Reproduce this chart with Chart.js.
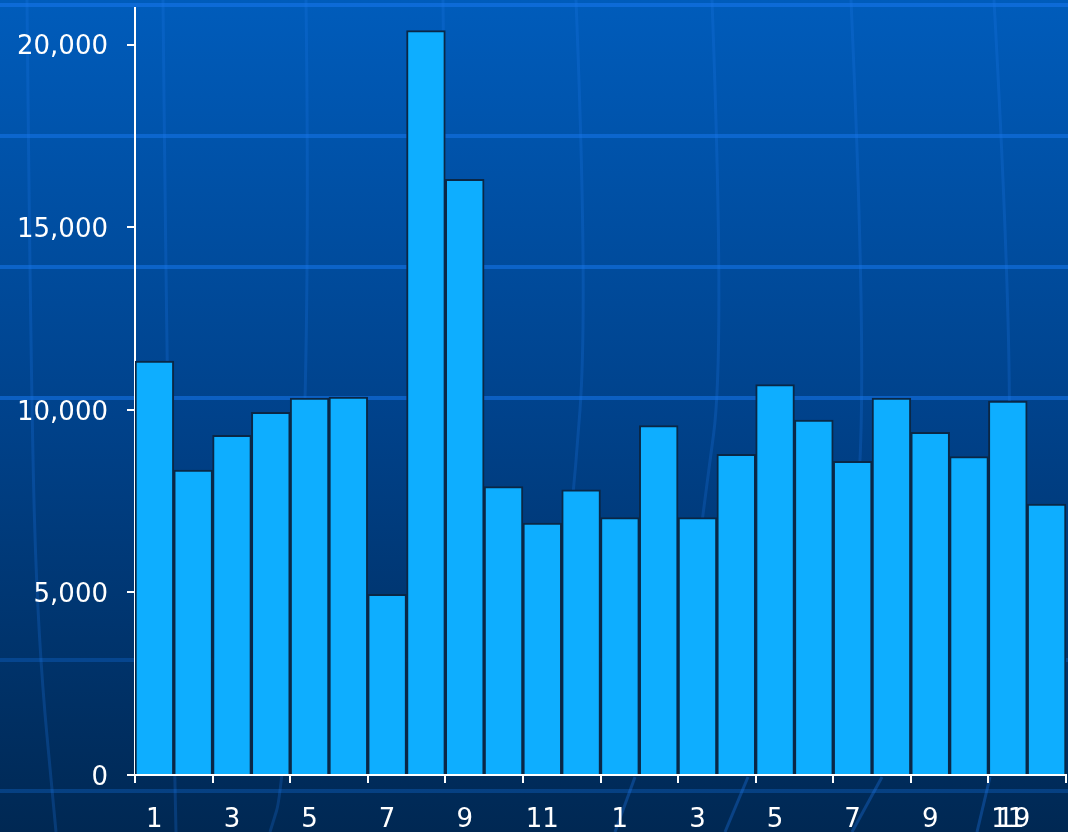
<!DOCTYPE html>
<html>
<head>
<meta charset="utf-8">
<script src="https://cdn.jsdelivr.net/npm/chart.js@4.4.1/dist/chart.umd.min.js"></script>
<style>
  html, body { margin: 0; padding: 0; background: #003a78; }
  #wrap { width: 1068px; height: 832px; position: relative; }
</style>
</head>
<body>
<div id="wrap"><canvas id="chart" width="1068" height="832"></canvas></div>
<script>
// Month numbers over two years
const categories = ['1','2','3','4','5','6','7','8','9','10','11','12',
                    '1','2','3','4','5','6','7','8','9','10','11','12'];
// Monthly totals
const values = [11330, 8350, 9300, 9930, 10320, 10350, 4950, 20380, 16310, 7900, 6900, 7810,
                7050, 9570, 7050, 8780, 10690, 9720, 8590, 10320, 9380, 8720, 10240, 7420];
// Value axis ticks
const yTicks = [0, 5000, 10000, 15000, 20000];
const yMax = 21000;
// Second label printed over the last month label
const extraLabel = '19';

const FONT = { family: '"DejaVu Sans", Verdana, sans-serif', size: 26 };

// Globe-style backdrop: gradient, latitude bands and curved meridians
const backdrop = {
  id: 'backdrop',
  beforeDraw(chart) {
    const { ctx, width, height } = chart;
    ctx.save();
    const g = ctx.createLinearGradient(0, 0, 0, height);
    g.addColorStop(0, '#005cbb');
    g.addColorStop(0.5, '#00428b');
    g.addColorStop(1, '#002853');
    ctx.fillStyle = g;
    ctx.fillRect(0, 0, width, height);

    const bands = [[5, 0.65], [136, 0.6], [267, 0.6], [398, 0.6], [660, 0.3], [791, 0.3]];
    ctx.lineWidth = 4;
    bands.forEach(([y, a]) => {
      ctx.strokeStyle = `rgba(20,115,230,${a})`;
      ctx.beginPath();
      ctx.moveTo(0, y);
      ctx.lineTo(width, y);
      ctx.stroke();
    });

    const meridians = [
      [[27,0],[31,400],[38,640],[56,832]],
      [[163,0],[167,400],[176,832]],
      [[306,0],[311,380],[283,790],[270,832]],
      [[443,0],[447,380],[430,740]],
      [[576,0],[588,300],[572,520],[545,740]],
      [[712,0],[725,350],[702,520],[675,740]],
      [[851,0],[868,380],[848,600],[830,740]],
      [[994,0],[1015,380],[1000,620]]
    ];
    const slants = [
      [[635,777],[615,832]], [[748,777],[725,832]],
      [[882,777],[852,832]], [[990,777],[977,832]]
    ];
    ctx.strokeStyle = 'rgba(30,120,235,0.24)';
    ctx.lineWidth = 3;
    const smooth = pts => {
      ctx.beginPath();
      ctx.moveTo(pts[0][0], pts[0][1]);
      for (let i = 1; i < pts.length - 1; i++) {
        const mx = (pts[i][0] + pts[i + 1][0]) / 2;
        const my = (pts[i][1] + pts[i + 1][1]) / 2;
        ctx.quadraticCurveTo(pts[i][0], pts[i][1], mx, my);
      }
      const last = pts[pts.length - 1];
      ctx.lineTo(last[0], last[1]);
      ctx.stroke();
    };
    meridians.forEach(smooth);
    ctx.strokeStyle = 'rgba(30,120,235,0.32)';
    slants.forEach(smooth);
    ctx.restore();
  },
  afterDraw(chart) {
    // overprinted label under the 23rd bar
    const x = chart.scales.x;
    const { ctx } = chart;
    ctx.save();
    ctx.font = `${FONT.size}px ${FONT.family}`;
    ctx.fillStyle = '#ffffff';
    ctx.textAlign = 'center';
    ctx.textBaseline = 'middle';
    const lbl = x._labelItems && x._labelItems[22];
    const y = lbl ? lbl.options.translation[1] + (lbl.textOffset || 0) : 818;
    ctx.fillText(extraLabel, x.getPixelForValue(22) + 6, y);
    ctx.restore();
  }
};

new Chart(document.getElementById('chart'), {
  type: 'bar',
  data: {
    labels: categories,
    datasets: [{
      data: values,
      backgroundColor: '#0eaeff',
      borderColor: '#0a2746',
      borderWidth: 2,
      barPercentage: 1,
      categoryPercentage: 1
    }]
  },
  options: {
    responsive: false,
    animation: false,
    devicePixelRatio: 1,
    layout: { padding: { top: 8, right: 2, left: 0, bottom: 0 } },
    plugins: { legend: { display: false }, tooltip: { enabled: false } },
    scales: {
      x: {
        offset: true,
        border: { color: '#ffffff', width: 2 },
        grid: {
          offset: true,
          drawOnChartArea: false,
          drawTicks: true,
          tickLength: 8,
          lineWidth: 2,
          color: c => (c.index === undefined || c.index % 2 === 0) ? '#ffffff' : 'rgba(0,0,0,0)'
        },
        ticks: {
          autoSkip: false,
          maxRotation: 0,
          color: '#ffffff',
          font: FONT,
          padding: 22,
          callback: (v, i) => (i % 2 === 0 ? categories[i] : '')
        },
        afterFit: s => { s.height = 57; s.paddingLeft = 0; s.paddingRight = 0; }
      },
      y: {
        min: 0,
        max: yMax,
        border: { color: '#ffffff', width: 2 },
        grid: {
          drawOnChartArea: false,
          drawTicks: true,
          tickLength: 8,
          lineWidth: 2,
          color: '#ffffff'
        },
        afterBuildTicks: s => { s.ticks = yTicks.map(v => ({ value: v })); },
        ticks: {
          color: '#ffffff',
          font: FONT,
          padding: 19,
          labelOffset: 3,
          callback: v => v.toLocaleString('en-US')
        },
        afterFit: s => { s.width = 135; s.paddingTop = 0; s.paddingBottom = 0; }
      }
    }
  },
  plugins: [backdrop]
});
</script>
</body>
</html>
